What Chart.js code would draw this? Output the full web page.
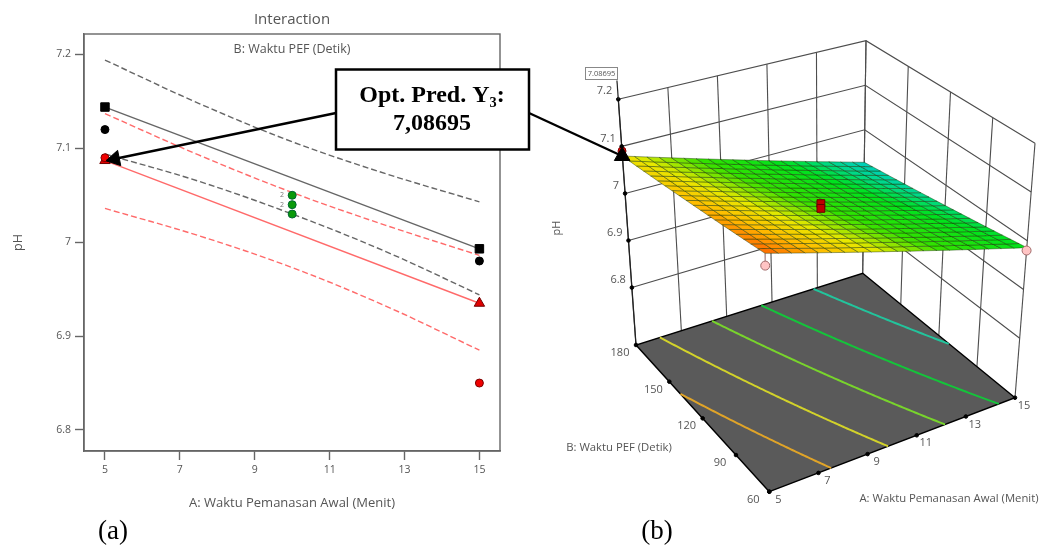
<!DOCTYPE html>
<html>
<head>
<meta charset="utf-8">
<style>
html,body{margin:0;padding:0;background:#fff;width:1039px;height:545px;overflow:hidden}
canvas{position:absolute;left:0;top:0;filter:blur(0.35px)}
</style>
<script src="https://cdn.jsdelivr.net/npm/chart.js@4"></script>
</head>
<body>
<canvas id="left" width="584" height="545" style="width:584px;height:545px"></canvas>
<canvas id="right" width="1039" height="545" style="width:1039px;height:545px"></canvas>
<script>
// ---------- data ----------
const aTicks = [5, 7, 9, 11, 13, 15];
const bTicks = [60, 90, 120, 150, 180];
const phTicks = [6.8, 6.9, 7.0, 7.1, 7.2];

const ciX = [5, 7.5, 10, 12.5, 15];
const blackUpperCI = [7.194, 7.148, 7.107, 7.073, 7.043];
const blackLowerCI = [7.094, 7.065, 7.030, 6.990, 6.944];
const redUpperCI   = [7.137, 7.093, 7.053, 7.018, 6.986];
const redLowerCI   = [7.036, 7.007, 6.973, 6.932, 6.885];

const lineX = [5, 15];
const blackFit = [7.144, 6.993];   // B = 60
const redFit   = [7.087, 6.935];   // B = 180

const blackObs = [7.12, 6.98];
const redObs   = [7.09, 6.85];
const centerX  = [10, 10, 10];
const centerObs = [7.05, 7.04, 7.03];

const optimumPH = 7.08695;
const contourLevels = [7.106, 7.071, 7.036, 7.003, 6.968];
const contourColors = ['#e0a428', '#d2d22a', '#78d42c', '#14c43a', '#22c49c'];

// ---------- left panel ----------
const GREY = '#666666', RED = '#ff6a6a';
const xy = (xs, ys) => xs.map((x, i) => ({x, y: ys[i]}));
const lineDs = (xs, ys, color, dash) => ({
  type: 'line', data: xy(xs, ys), borderColor: color, borderWidth: 1.4,
  borderDash: dash ? [6, 3] : [], pointRadius: 0, tension: dash ? 0.35 : 0, fill: false
});
const markDs = (xs, ys, style, fill, edge, r) => ({
  type: 'scatter', data: xy(xs, ys), pointStyle: style, pointRadius: r,
  pointBackgroundColor: fill, pointBorderColor: edge, pointBorderWidth: 1, showLine: false
});
const textPlugin = {
  id: 'texts',
  afterDraw(chart, args, opts) {
    const c = chart.ctx;
    (opts.items || []).forEach(t => {
      c.save();
      c.font = t.font; c.fillStyle = t.color || '#555';
      c.textAlign = t.align || 'center'; c.textBaseline = 'middle';
      c.translate(t.x, t.y);
      if (t.rot) c.rotate(t.rot);
      c.fillText(t.text, 0, 0);
      c.restore();
    });
  }
};
const framePlugin = {
  id: 'frame',
  afterDraw(chart) {
    const a = chart.chartArea, c = chart.ctx;
    c.save(); c.strokeStyle = GREY; c.lineWidth = 1.4;
    c.strokeRect(a.left, a.top, a.right - a.left, a.bottom - a.top);
    c.restore();
  }
};
const UI = '"Open Sans","Noto Sans",sans-serif';
const leftChart = new Chart(document.getElementById('left'), {
  data: { datasets: [
    markDs(lineX, redObs, 'circle', '#f00000', '#7a0000', 4),
    markDs(lineX, redFit, 'triangle', '#e00000', '#700000', 6),
    markDs(lineX, blackFit, 'rect', '#000', '#000', 6),
    markDs(lineX, blackObs, 'circle', '#000', '#000', 4),
    markDs(centerX, centerObs, 'circle', '#0a9a0a', '#063', 4),
    lineDs(lineX, blackFit, GREY, false),
    lineDs(lineX, redFit, RED, false),
    lineDs(ciX, blackUpperCI, GREY, true),
    lineDs(ciX, blackLowerCI, GREY, true),
    lineDs(ciX, redUpperCI, RED, true),
    lineDs(ciX, redLowerCI, RED, true)
  ]},
  options: {
    responsive: false, animation: false, events: [],
    layout: { autoPadding: false, padding: { left: 0, right: 84, top: 0, bottom: 34 } },
    plugins: {
      legend: { display: false }, tooltip: { enabled: false },
      title: { display: true, fullSize: false, text: 'Interaction', color: '#555',
        font: { family: UI, size: 15, weight: 'normal' }, padding: { top: 11, bottom: 5 } },
      texts: { items: [
        { text: 'B: Waktu PEF (Detik)', x: 292, y: 49, font: '12.5px ' + UI },
        { text: '2', x: 282, y: 195, font: '7px ' + UI, color: '#777' },
        { text: '2', x: 282, y: 205, font: '7px ' + UI, color: '#777' }
      ]}
    },
    scales: {
      x: { type: 'linear', min: 4.44, max: 15.55,
        afterBuildTicks: s => { s.ticks = aTicks.map(v => ({value: v})); },
        afterFit: s => { s.height = 60; },
        grid: { drawOnChartArea: false, drawTicks: true, tickLength: 9, tickColor: GREY, tickWidth: 1.4 },
        border: { color: GREY, width: 1.4 },
        ticks: { color: '#555', font: { family: UI, size: 10.5 }, padding: 4, maxRotation: 0 },
        title: { display: true, text: 'A: Waktu Pemanasan Awal (Menit)', color: '#555',
          font: { family: UI, size: 13 }, padding: { top: 0, bottom: 0 } } },
      y: { type: 'linear', min: 6.7776, max: 7.2218,
        afterBuildTicks: s => { s.ticks = phTicks.map(v => ({value: v})); },
        afterFit: s => { s.width = 84; },
        grid: { drawOnChartArea: false, drawTicks: true, tickLength: 9, tickColor: GREY, tickWidth: 1.4 },
        border: { color: GREY, width: 1.4 },
        ticks: { color: '#555', font: { family: UI, size: 10.5 }, padding: 4,
          callback: v => String(v) },
        title: { display: true, text: 'pH', color: '#555',
          font: { family: UI, size: 12.5 }, padding: { top: 11, bottom: 0 } } }
    }
  },
  plugins: [textPlugin, framePlugin]
});

// ---------- right panel: view geometry of the 3-D box ----------
const zFloor = 6.678, zTop = 7.2;
const floorView = { a5b60:[769.3,491.7], a15b60:[1015,397.7], a5b180:[636,345], a15b180:[862.7,273.3] };
const topView   = { a5b60:[764.5,224.7],  a15b60:[1035,143.3], a5b180:[618.3,99.3], a15b180:[866,40.7] };
const bil = (v, A, B) => {
  const u = (A - 5) / 10, w = (B - 60) / 120;
  const f = k => (1-u)*(1-w)*v.a5b60[k] + u*(1-w)*v.a15b60[k] + (1-u)*w*v.a5b180[k] + u*w*v.a15b180[k];
  return [f(0), f(1)];
};
const project = (A, B, z) => {
  const p = bil(floorView, A, B), q = bil(topView, A, B), t = (z - zFloor) / (zTop - zFloor);
  return { x: p[0] + (q[0] - p[0]) * t, y: p[1] + (q[1] - p[1]) * t };
};
// the mesh sits about 3px lower than the wall scale suggests, except at the front corner
const projectMesh = (A, B, z) => {
  const p = project(A, B, z), u = (A - 5) / 10, w = (B - 60) / 120;
  return { x: p.x, y: p.y + 3.5 * (1 - (1-u)*(1-w)) };
};
// fitted response plane: its four corners are the fit lines of the left panel
const surfaceZ = (A, B) => {
  const u = (A - 5) / 10, w = (B - 60) / 120;
  return (1-w) * (blackFit[0] + (blackFit[1]-blackFit[0])*u) + w * (redFit[0] + (redFit[1]-redFit[0])*u);
};
const rampStops = [[6.93,[0,204,204]],[6.96,[0,216,140]],[6.99,[0,226,30]],[7.04,[50,226,0]],
                   [7.08,[232,232,0]],[7.11,[255,190,0]],[7.146,[255,96,0]]];
const ramp = z => {
  for (let i = 1; i < rampStops.length; i++) {
    if (z <= rampStops[i][0]) {
      const [a, ca] = rampStops[i-1], [b, cb] = rampStops[i], t = Math.max(0, (z-a)/(b-a));
      return `rgb(${ca.map((v,k) => Math.round(v+(cb[k]-v)*t)).join(',')})`;
    }
  }
  return 'rgb(255,96,0)';
};
const WALL = '#4d4d4d';
const ds = [];
const path = (pts, color, width, extra) => ds.push(Object.assign({
  type: 'line', data: pts, borderColor: color, borderWidth: width, pointRadius: 0, tension: 0, fill: false, clip: false
}, extra || {}));
const seg = (A1,B1,z1,A2,B2,z2,color,width) => path([project(A1,B1,z1), project(A2,B2,z2)], color, width);

// back walls
aTicks.forEach(A => seg(A,180,zFloor,A,180,zTop,WALL,1.1));
bTicks.forEach(B => seg(15,B,zFloor,15,B,zTop,WALL,1.1));
phTicks.forEach(z => {
  path([project(5,180,z), project(15,180,z), project(15,60,z)], WALL, 1.1);
});
// floor with contours
const fc = [project(5,60,zFloor), project(15,60,zFloor), project(15,180,zFloor), project(5,180,zFloor)];
path([...fc, fc[0]], '#000', 1.4, { fill: 'shape', backgroundColor: '#5a5a5a' });
contourLevels.forEach((lvl, i) => {
  const pts = [];
  for (let B = 60; B <= 180; B += 1) {
    const zl = surfaceZ(5, B), zr = surfaceZ(15, B), A = 5 + 10 * (zl - lvl) / (zl - zr);
    if (A >= 5 && A <= 15) pts.push(project(A, B, zFloor));
  }
  path(pts, contourColors[i], 2);
});
// front axis line
seg(5,180,zFloor,5,180,zTop,'#222',1.3);
// pillars and design points below the surface
const pinkA = [5, 15], pinkB = [60, 60];
pinkA.forEach((A, i) => {
  seg(A, pinkB[i], surfaceZ(A, pinkB[i]), A, pinkB[i], blackObs[i], '#a88', 1.2);
});
// surface mesh
const N = 20;
for (let i = 0; i < N; i++) for (let j = 0; j < N; j++) {
  const A0 = 5 + 10*i/N, A1 = 5 + 10*(i+1)/N, B0 = 60 + 120*j/N, B1 = 60 + 120*(j+1)/N;
  const pts = [[A0,B0],[A1,B0],[A1,B1],[A0,B1],[A0,B0]].map(([a,b]) => projectMesh(a,b,surfaceZ(a,b)));
  const col = ramp(surfaceZ((A0+A1)/2,(B0+B1)/2));
  path(pts, 'rgba(20,50,0,0.55)', 0.8, { fill: 'shape', backgroundColor: col });
}
const mark = (pts, style, r, fill, edge, extra) => ds.push(Object.assign({
  type: 'scatter', data: pts, pointStyle: style, pointRadius: r, pointBackgroundColor: fill,
  pointBorderColor: edge, pointBorderWidth: 1, showLine: false, clip: false
}, extra || {}));
mark(pinkA.map((A,i) => project(A, pinkB[i], blackObs[i])), 'circle', 4.5, '#ffc4c4', '#a06a6a');
mark(centerObs.slice(1).map(z => project(10, 120, z)), 'rect', 5.5, '#c00000', '#6a0000');
mark([project(5, 180, redObs[0])], 'circle', 4, '#f00000', '#700');
// tick dots
mark(phTicks.map(z => project(5,180,z)), 'circle', 1.8, '#000', '#000');
mark(aTicks.map(A => project(A,60,zFloor)), 'circle', 1.8, '#000', '#000');
mark(bTicks.map(B => project(5,B,zFloor)), 'circle', 1.8, '#000', '#000');
// optimum flag
const optPt = projectMesh(5, 180, optimumPH);
const flagPt = project(5, 180, zTop + 0.04);
path([project(5,180,zTop), flagPt], '#222', 1.2);

// callout arrows, tips taken from the two panels
const leftTip = { x: leftChart.scales.x.getPixelForValue(5) + 2, y: leftChart.scales.y.getPixelForValue(redFit[0]) };
const boxL = { x: 336, y: 113 }, boxR = { x: 529, y: 113 };
path([boxL, leftTip], '#000', 2.4);
path([boxR, optPt], '#000', 2.4);
const ang = Math.atan2(leftTip.x - boxL.x, -(leftTip.y - boxL.y)) * 180 / Math.PI;
const dl = Math.hypot(leftTip.x - boxL.x, leftTip.y - boxL.y);
const backOff = 8;
mark([{ x: leftTip.x + (boxL.x - leftTip.x) / dl * backOff, y: leftTip.y + (boxL.y - leftTip.y) / dl * backOff }],
     'triangle', 9, '#000', '#000', { pointRotation: ang });
mark([optPt], 'triangle', 9, '#000', '#000');
ds.forEach((d, i) => { d.order = ds.length - i; });

const lbl = [];
phTicks.forEach(z => { const p = project(5,180,z);
  lbl.push({ text: String(z), x: p.x - 6, y: p.y - 8, align: 'right', font: '11px ' + UI }); });
bTicks.forEach(B => { const p = project(5,B,zFloor);
  lbl.push({ text: String(B), x: p.x - 16, y: p.y + 8, font: '11px ' + UI }); });
aTicks.forEach(A => { const p = project(A,60,zFloor);
  lbl.push({ text: String(A), x: p.x + 9, y: p.y + 8, font: '11px ' + UI }); });
lbl.push({ text: 'B: Waktu PEF (Detik)', x: 619, y: 448, font: '11.3px ' + UI });
lbl.push({ text: 'A: Waktu Pemanasan Awal (Menit)', x: 949, y: 499, font: '11.3px ' + UI });
lbl.push({ text: 'pH', x: 557, y: 228, rot: -Math.PI/2, font: '11px ' + UI });
lbl.push({ text: '(a)', x: 113, y: 532, color: '#000', font: '27px "Liberation Serif"' });
lbl.push({ text: '(b)', x: 657, y: 532, color: '#000', font: '27px "Liberation Serif"' });

const boxPlugin = {
  id: 'boxes',
  afterDatasetsDraw(chart) {
    const c = chart.ctx;
    c.save();
    c.fillStyle = '#fff'; c.strokeStyle = '#000'; c.lineWidth = 2.5;
    c.fillRect(336, 69.5, 193, 80); c.strokeRect(336, 69.5, 193, 80);
    c.fillStyle = '#fff'; c.strokeStyle = '#888'; c.lineWidth = 1;
    c.fillRect(585.5, 67.5, 32, 12); c.strokeRect(585.5, 67.5, 32, 12);
    c.fillStyle = '#000'; c.textAlign = 'center'; c.textBaseline = 'middle';
    c.font = 'bold 24px "Liberation Serif"';
    c.fillText('Opt. Pred. Y\u2083:', 432, 96);
    c.fillText('7,08695', 432, 124);
    c.fillStyle = '#555'; c.font = '7.5px ' + UI;
    c.fillText(String(optimumPH), 601.5, 73.5);
    c.restore();
  }
};

new Chart(document.getElementById('right'), {
  data: { datasets: ds },
  options: {
    responsive: false, animation: false, events: [],
    layout: { autoPadding: false, padding: 0 },
    plugins: { legend: { display: false }, tooltip: { enabled: false }, title: { display: false },
      texts: { items: lbl } },
    scales: {
      x: { type: 'linear', min: 0, max: 1039, display: false },
      y: { type: 'linear', min: 0, max: 545, reverse: true, display: false }
    }
  },
  plugins: [boxPlugin, textPlugin]
});
</script>
</body>
</html>
